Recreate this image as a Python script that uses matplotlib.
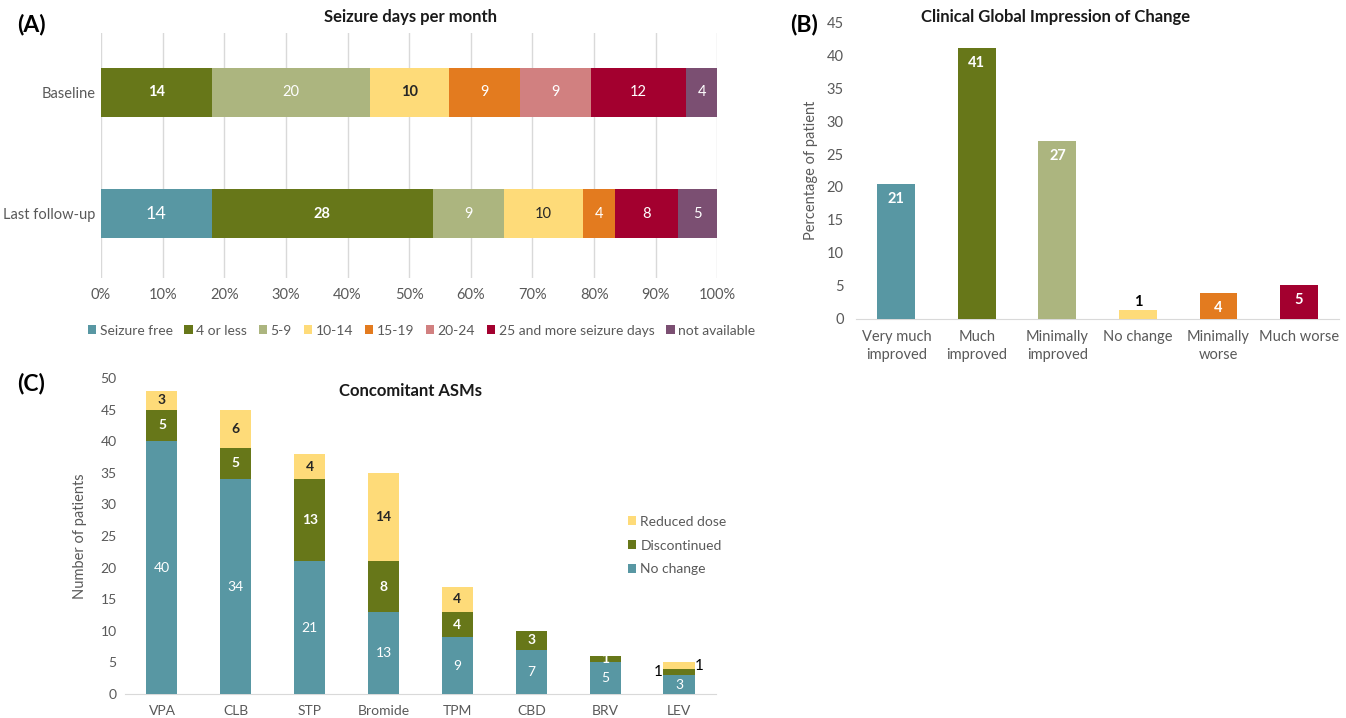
import numpy as np
import matplotlib
matplotlib.use("Agg")
from matplotlib import pyplot as plt

plt.rcParams["font.family"] = ["Lato", "DejaVu Sans"]

# panel A: seizure days per month (patient counts)
rows = ["Last follow-up", "Baseline"]
freq_cats = ["Seizure free", "4 or less", "5-9", "10-14", "15-19", "20-24",
             "25 and more seizure days", "not available"]
baseline = [0, 14, 20, 10, 9, 9, 12, 4]
followup = [14, 28, 9, 10, 4, 0, 8, 5]
freq_colors = ["#5897A3", "#677719", "#ACB57F", "#FEDB79", "#E37B1F",
               "#D18080", "#A3002F", "#7B4F72"]

# panel B: clinical global impression of change
cgi_labels = ["Very much\nimproved", "Much\nimproved", "Minimally\nimproved",
              "No change", "Minimally\nworse", "Much worse"]
cgi_counts = [16, 32, 21, 1, 3, 4]
cgi_total = 78
cgi_colors = ["#5897A3", "#677719", "#ACB57F", "#FEDB79", "#E37B1F", "#A3002F"]

# panel C: concomitant ASMs
drugs = ["VPA", "CLB", "STP", "Bromide", "TPM", "CBD", "BRV", "LEV"]
no_change = [40, 34, 21, 13, 9, 7, 5, 3]
discontinued = [5, 5, 13, 8, 4, 3, 1, 1]
reduced = [3, 6, 4, 14, 4, 0, 0, 1]

grey = "#595959"
grid_c = "#D9D9D9"

fig = plt.figure(figsize=(13.46, 7.18), dpi=100)

# ---------- (A)
axA = fig.add_axes([0.075, 0.613, 0.458, 0.341])
data = np.array([followup, baseline], dtype=float)
pct = data / data.sum(axis=1, keepdims=True) * 100
left = np.zeros(2)
# label styles per row: (Last follow-up, Baseline)
bold_cells = {(1, 1), (1, 3), (0, 1)}
dark_cells = {(1, 3), (0, 3)}
for j in range(len(freq_cats)):
    axA.barh([0, 1], pct[:, j], left=left, height=0.4, color=freq_colors[j],
             label=freq_cats[j], zorder=3)
    for i in range(2):
        if data[i, j] > 0:
            col = "#262626" if (i, j) in dark_cells else "white"
            fw = "bold" if (i, j) in bold_cells else "normal"
            fs = 13 if (i == 0 and j == 0) else 10.5
            axA.text(left[i] + pct[i, j] / 2, i, f"{int(data[i, j])}",
                     ha="center", va="center", color=col, fontsize=fs,
                     fontweight=fw, zorder=4)
    left += pct[:, j]
axA.set_xlim(0, 100)
axA.set_ylim(-0.53, 1.49)
axA.set_yticks([0, 1])
axA.set_yticklabels(rows)
axA.set_xticks(np.arange(0, 101, 10))
axA.set_xticklabels([f"{v}%" for v in range(0, 101, 10)])
axA.grid(axis="x", color=grid_c, linewidth=1, zorder=0)
for s in axA.spines.values():
    s.set_visible(False)
axA.tick_params(length=0, colors=grey, labelsize=10.5)
axA.tick_params(axis="x", pad=7)
axA.tick_params(axis="y", pad=4)
axA.legend(loc="upper center", bbox_to_anchor=(0.52, -0.14), ncol=8,
           frameon=False, fontsize=10, handlelength=0.6, handleheight=0.6,
           handletextpad=0.25, columnspacing=0.85, labelcolor=grey)
fig.text(0.305, 0.976, "Seizure days per month", ha="center", va="center",
         fontsize=12, fontweight="bold", color="#1a1a1a")
fig.text(0.013, 0.966, "(A)", ha="left", va="center", fontsize=16.5,
         fontweight="bold")

# ---------- (B)
axB = fig.add_axes([0.636, 0.556, 0.359, 0.413])
cgi_pct = [c / cgi_total * 100 for c in cgi_counts]
xb = np.arange(len(cgi_labels))
axB.bar(xb, cgi_pct, width=0.47, color=cgi_colors, zorder=3)
for x, v in zip(xb, cgi_pct):
    if v > 2:
        axB.text(x, v - 1.2, f"{v:.0f}", ha="center", va="top", color="white",
                 fontsize=10.5, fontweight="bold")
    else:
        axB.text(x, v + 0.2, f"{v:.0f}", ha="center", va="bottom",
                 color="black", fontsize=10.5, fontweight="bold")
axB.set_xlim(-0.5, len(cgi_labels) - 0.5)
axB.set_ylim(0, 45)
axB.set_yticks(range(0, 46, 5))
axB.set_xticks(xb)
axB.set_xticklabels(cgi_labels, linespacing=1.35)
for s in ["top", "right", "left"]:
    axB.spines[s].set_visible(False)
axB.spines["bottom"].set_color(grid_c)
axB.tick_params(length=0, colors=grey, labelsize=10.5)
axB.tick_params(axis="x", pad=8)
axB.tick_params(axis="y", pad=9)
axB.set_ylabel("Percentage of patient", color=grey, fontsize=10.5, labelpad=6)
fig.text(0.784, 0.976, "Clinical Global Impression of Change", ha="center",
         va="center", fontsize=12, fontweight="bold", color="#1a1a1a")
fig.text(0.587, 0.966, "(B)", ha="left", va="center", fontsize=16.5,
         fontweight="bold")

# ---------- (C)
axC = fig.add_axes([0.0929, 0.0334, 0.439, 0.44])
xc = np.arange(len(drugs))
bot2 = np.array(no_change)
bot3 = bot2 + np.array(discontinued)
axC.bar(xc, no_change, width=0.42, color="#5897A3", label="No change", zorder=3)
axC.bar(xc, discontinued, width=0.42, bottom=bot2, color="#677719",
        label="Discontinued", zorder=3)
axC.bar(xc, reduced, width=0.42, bottom=bot3, color="#FEDB79",
        label="Reduced dose", zorder=3)
for i, d in enumerate(drugs):
    axC.text(i, no_change[i] / 2, f"{no_change[i]}", ha="center", va="center",
             color="white", fontsize=10)
    if d == "LEV":
        axC.text(i - 0.22, bot2[i] + discontinued[i] / 2, f"{discontinued[i]}",
                 ha="right", va="center", color="black", fontsize=11)
        axC.text(i + 0.22, bot3[i] + reduced[i] / 2, f"{reduced[i]}",
                 ha="left", va="center", color="black", fontsize=11)
        continue
    if discontinued[i]:
        axC.text(i, bot2[i] + discontinued[i] / 2, f"{discontinued[i]}",
                 ha="center", va="center", color="white", fontsize=10,
                 fontweight="bold")
    if reduced[i]:
        axC.text(i, bot3[i] + reduced[i] / 2, f"{reduced[i]}", ha="center",
                 va="center", color="#262626", fontsize=10, fontweight="bold")
axC.set_xlim(-0.5, len(drugs) - 0.5)
axC.set_ylim(0, 50)
axC.set_yticks(range(0, 51, 5))
axC.set_xticks(xc)
axC.set_xticklabels(drugs)
for s in ["top", "right", "left"]:
    axC.spines[s].set_visible(False)
axC.spines["bottom"].set_color(grid_c)
axC.tick_params(length=0, colors=grey, labelsize=10)
axC.tick_params(axis="x", pad=8)
axC.tick_params(axis="y", pad=6)
axC.set_ylabel("Number of patients", color=grey, fontsize=10.5, labelpad=10)
h, l = axC.get_legend_handles_labels()
axC.legend(h[::-1], l[::-1], loc="center left", bbox_to_anchor=(0.83, 0.47),
           frameon=False, fontsize=10, handlelength=0.6, handleheight=0.6,
           handletextpad=0.3, labelspacing=0.85, labelcolor=grey)
fig.text(0.305, 0.455, "Concomitant ASMs", ha="center", va="center",
         fontsize=12, fontweight="bold", color="#1a1a1a")
fig.text(0.013, 0.466, "(C)", ha="left", va="center", fontsize=16.5,
         fontweight="bold")

fig.savefig("out.png", dpi=100, facecolor="white")
